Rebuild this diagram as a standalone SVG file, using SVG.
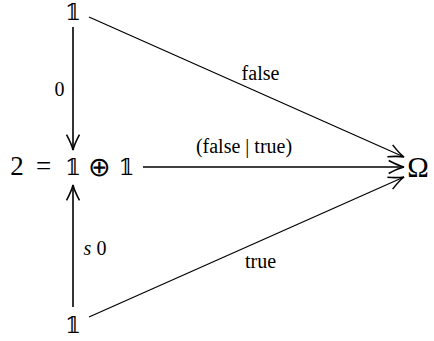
<svg xmlns="http://www.w3.org/2000/svg" width="434" height="341" viewBox="0 0 434 341">
<style>
text{font-family:"Liberation Serif","DejaVu Serif","DejaVu Sans",serif;fill:#000;text-anchor:middle}
.big{font-size:27px}
.lbl{font-size:20px}
.bb{font-family:"DejaVu Serif","DejaVu Sans","Noto Sans",serif;font-size:23px}
.ln{fill:none;stroke:#000;stroke-width:1.6}
.dg{fill:none;stroke:#000;stroke-width:1.2}
</style>
<defs>
<marker id="to" markerUnits="userSpaceOnUse" markerWidth="20" markerHeight="20" refX="0" refY="0" viewBox="-15 -8 17 16" orient="auto">
<path d="M-13,-5.5 Q-5,-1.2 0,0 Q-5,1.2 -13,5.5" fill="none" stroke="#000" stroke-width="1.3"/>
</marker>
</defs>
<g id="connectors">
<path class="ln" d="M73,27 L73,150" marker-end="url(#to)"/>
<path class="ln" d="M73,307 L73,185" marker-end="url(#to)"/>
<path class="ln" d="M143,167 L404,167" marker-end="url(#to)"/>
<path class="dg" d="M89,17 L404,157" marker-end="url(#to)"/>
<path class="dg" d="M89,317 L404,177" marker-end="url(#to)"/>
<text class="lbl" x="59.5" y="96">0</text>
<text class="lbl" x="95" y="255"><tspan font-style="italic">s</tspan> 0</text>
<text class="lbl" x="260.5" y="80">false</text>
<text class="lbl" x="260.5" y="268">true</text>
<text class="lbl" x="244" y="153">(false | true)</text>
</g>
<g id="node-top"><text class="bb" x="73" y="20">𝟙</text></g>
<g id="node-mid">
<text class="big" x="17" y="175">2</text>
<text class="big" x="43.5" y="175">=</text>
<text class="bb" x="73" y="175">𝟙</text>
<text x="99" y="176" style="font-family:'DejaVu Sans',serif;font-size:27px;font-weight:300">⊕</text>
<text class="bb" x="126.5" y="175">𝟙</text>
</g>
<g id="node-omega"><text class="big" x="418" y="177" style="font-size:29px">Ω</text></g>
<g id="node-bottom"><text class="bb" x="73" y="333">𝟙</text></g>
</svg>
